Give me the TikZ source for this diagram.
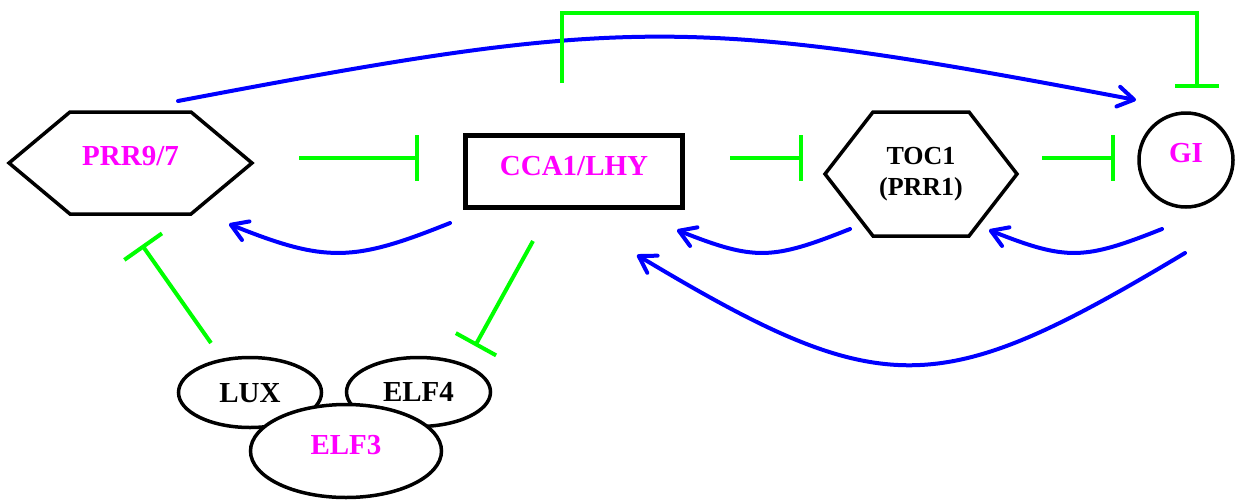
\documentclass[tikz,border=0pt]{standalone}
\usepackage{fontspec}
\setmainfont{Liberation Serif}
\usetikzlibrary{arrows.meta,shapes.geometric}
\definecolor{mag}{RGB}{255,0,255}
\definecolor{grn}{RGB}{0,255,0}
\definecolor{blu}{RGB}{0,0,255}
\begin{document}
\begin{tikzpicture}[x=1pt,y=-1pt,
  lbl/.style={font=\fontsize{29}{35}\selectfont\bfseries},
  hexbox/.style={rectangle,draw=none,inner sep=0pt,outer sep=0pt},
  outline/.style={draw=black,line width=3.5pt,line join=miter},
  oval/.style={ellipse,draw=black,line width=3.5pt,inner sep=0pt,lbl},
  act/.style={draw=blu,line width=4pt,line cap=round,-{Straight Barb[length=16pt,width=20pt,round]}},
  inh/.style={draw=grn,line width=4pt,-{Bar[width=46pt]}},
]
\useasboundingbox (0,0) rectangle (1239,501);

% PRR9/7
\node[hexbox,lbl,text=mag,minimum width=243pt,minimum height=102pt,text height=19.2pt,text depth=14pt] (prr) at (130.5,163) {PRR9/7};
\draw[outline] (prr.west) -- ([xshift=61pt]prr.north west) -- ([xshift=-61pt]prr.north east) -- (prr.east) -- ([xshift=-61pt]prr.south east) -- ([xshift=61pt]prr.south west) -- cycle;

% CCA1/LHY
\node[draw=black,line width=5pt,lbl,text=mag,inner sep=0pt,outer sep=0pt,minimum width=217pt,minimum height=72pt,text height=19.2pt,text depth=11pt] (cca) at (574,171.5) {CCA1/LHY};

% TOC1
\node[hexbox,font=\fontsize{26}{31}\selectfont\bfseries,align=center,minimum width=192pt,minimum height=124pt] (toc) at (921,174) {TOC1\\(PRR1)};
\draw[outline] (toc.west) -- ([xshift=48pt]toc.north west) -- ([xshift=-48pt]toc.north east) -- (toc.east) -- ([xshift=-48pt]toc.south east) -- ([xshift=48pt]toc.south west) -- cycle;

% GI
\node[circle,draw=black,line width=3.5pt,lbl,text=mag,inner sep=0pt,minimum size=94pt,text height=18.9pt,text depth=13pt] (gi) at (1186,160) {GI};

% Evening complex
\node[oval,minimum width=143pt,minimum height=70pt,text height=19.2pt,text depth=0pt] (lux) at (250,392.5) {LUX};
\node[oval,minimum width=144pt,minimum height=69pt,text height=19.2pt,text depth=0pt] (elf4) at (418.5,392) {ELF4};
\node[oval,fill=white,text=mag,minimum width=191pt,minimum height=93pt,text height=19.2pt,text depth=12pt] (elf3) at (346,451) {ELF3};

% activations
\draw[act] ([shift={(47.5,-62)}]prr.center) .. controls (626,16) and (688,15) .. ([shift={(-50,-60)}]gi.center);
\draw[act] ([shift={(-124,51.5)}]cca.center) .. controls (353,262) and (326,263) .. ([shift={(98.5,61)}]prr.center);
\draw[act] ([shift={(-71,55)}]toc.center) .. controls (772,260) and (755,261) .. ([shift={(103,58.5)}]cca.center);
\draw[act] ([shift={(-24,69)}]gi.center) .. controls (1084,260) and (1067,261) .. ([shift={(68,56)}]toc.center);
\draw[act] ([shift={(-1,93)}]gi.center) .. controls (938,401) and (884,403) .. ([shift={(63,83.5)}]cca.center);

% inhibitions
\draw[inh,-{Bar[width=44pt]}] ([shift={(-12,-88.5)}]cca.center) -- ++(0,-70) -| ([shift={(11,-72)}]gi.center);
\draw[inh] ([shift={(168.5,-5)}]prr.center) -- ([shift={(-155,-13.5)}]cca.center);
\draw[inh] ([shift={(156,-13.5)}]cca.center) -- ([shift={(-118,-16)}]toc.center);
\draw[inh] ([shift={(121,-16)}]toc.center) -- ([shift={(-71,-2)}]gi.center);
\draw[inh] ([shift={(-39,-49.5)}]lux.center) -- ([shift={(11.5,82)}]prr.center);
\draw[inh] ([shift={(-41,69.5)}]cca.center) -- ([shift={(56.5,-46)}]elf4.center);
\end{tikzpicture}
\end{document}
